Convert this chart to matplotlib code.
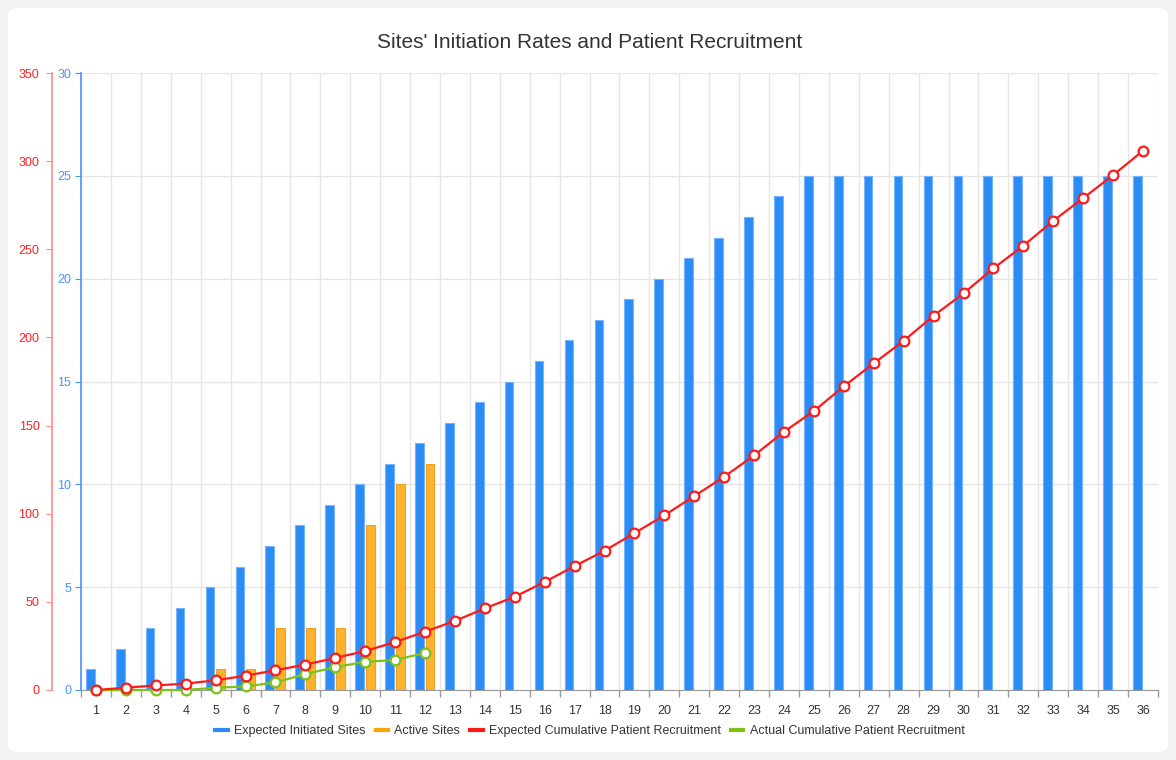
import matplotlib
matplotlib.use("Agg")
import matplotlib.pyplot as plt
from matplotlib.patches import FancyBboxPatch
from matplotlib.lines import Line2D
import numpy as np

plt.rcParams['font.family'] = ['Liberation Sans', 'DejaVu Sans']

months = list(range(1, 37))
expected_sites = [1, 2, 3, 4, 5, 6, 7, 8, 9, 10, 11, 12, 13, 14, 15, 16, 17, 18,
                  19, 20, 21, 22, 23, 24, 25, 25, 25, 25, 25, 25, 25, 25, 25, 25, 25, 25]
active_sites = [0, 0, 0, 0, 1, 1, 3, 3, 3, 8, 10, 11]
expected_recruit = [0, 1.3, 2.6, 3.6, 5.5, 8.1, 11.2, 14.4, 18.2, 22.1, 27.2, 33.1,
                    39.2, 46.3, 52.9, 61.3, 70.3, 79, 89, 99.1, 110, 121, 133.1, 146.5,
                    158.3, 172.3, 185.3, 198.1, 212.3, 225, 239.2, 252, 266.2, 279, 292.1, 305.9]
actual_recruit = [0, 0, 0, 0, 1.3, 2, 4.3, 9, 13, 16, 17, 21]

W, H = 1176, 760
fig = plt.figure(figsize=(W / 100, H / 100), dpi=100)
fig.patch.set_facecolor('#f3f3f3')
card = FancyBboxPatch((8 / W, 8 / H), 1160 / W, 744 / H,
                      boxstyle="round,pad=0,rounding_size=0.01",
                      transform=fig.transFigure, facecolor='white', edgecolor='none', zorder=-10)
fig.patches.append(card)

left, right, top, bottom = 81, 1158, 73, 690
ax = fig.add_axes([left / W, 1 - bottom / H, (right - left) / W, (bottom - top) / H])
ax.patch.set_alpha(0)

blue = '#2b8cf5'
blue_edge = '#74b3ff'
orange = '#ffb22e'
orange_edge = '#eda024'
red = '#ff1a1a'
green = '#7cc21b'
blue_axis = '#4a94f5'
red_axis = '#ff8a8a'

x = np.array(months)
bw = 0.29
ax.bar(x - 0.19, expected_sites, width=bw, color=blue, edgecolor=blue_edge, linewidth=0.8, zorder=2)
xa = np.array(months[:len(active_sites)])
ax.bar(xa + 0.17, active_sites, width=bw, color=orange, edgecolor=orange_edge, linewidth=0.8, zorder=2)

ax.set_xlim(0.5, 36.5)
ax.set_ylim(0, 30)
ax.set_yticks(range(0, 31, 5))
ax.set_xticks(months)
ax.set_xticks(np.arange(0.5, 37, 1), minor=True)
ax.tick_params(axis='x', which='major', length=0, pad=11, labelsize=9, labelcolor='#333333')
ax.tick_params(axis='x', which='minor', length=5, color='#999999', width=1)
ax.tick_params(axis='y', length=4, color=blue_axis, labelcolor=blue_axis, labelsize=9, pad=3)
ax.grid(True, axis='y', color='#e6e6e6', linewidth=1)
ax.grid(True, axis='x', which='minor', color='#e6e6e6', linewidth=1)
ax.set_axisbelow(True)
for s in ['top', 'right']:
    ax.spines[s].set_visible(False)
ax.spines['left'].set_color(blue_axis)
ax.spines['left'].set_linewidth(1.2)
ax.spines['bottom'].set_color('#999999')

ax2 = ax.twinx()
ax2.set_ylim(0, 350)
ax2.set_yticks(range(0, 351, 50))
ax2.yaxis.set_ticks_position('left')
ax2.yaxis.set_label_position('left')
ax2.spines['left'].set_position(('outward', 29 * 72 / 100))
ax2.spines['left'].set_color(red_axis)
ax2.spines['left'].set_linewidth(1.2)
for s in ['top', 'right', 'bottom']:
    ax2.spines[s].set_visible(False)
ax2.tick_params(axis='y', length=4, color=red_axis, labelcolor='#ff2222', labelsize=9, pad=5)

ax2.plot(x, expected_recruit, color=red, linewidth=1.6, marker='o', markersize=7,
         markerfacecolor='white', markeredgecolor=red, markeredgewidth=1.6, clip_on=False, zorder=4)
ax2.plot(xa, actual_recruit, color=green, linewidth=1.6, marker='o', markersize=7,
         markerfacecolor='white', markeredgecolor=green, markeredgewidth=1.6, clip_on=False, zorder=3)

fig.text(590 / W, 1 - 43 / H, "Sites' Initiation Rates and Patient Recruitment",
         ha='center', va='center', fontsize=15, color='#333333')

handles = [Line2D([0], [0], color=c, linewidth=3) for c in [blue, '#ffa500', red, green]]
labels = ['Expected Initiated Sites', 'Active Sites', 'Expected Cumulative Patient Recruitment',
          'Actual Cumulative Patient Recruitment']
fig.legend(handles, labels, loc='center', bbox_to_anchor=(590 / W, 1 - 731 / H), ncol=4,
           frameon=False, fontsize=9, handlelength=1.0, handletextpad=0.5, columnspacing=0.8,
           labelcolor='#333333')

fig.savefig('out.png', dpi=100, facecolor=fig.get_facecolor())
